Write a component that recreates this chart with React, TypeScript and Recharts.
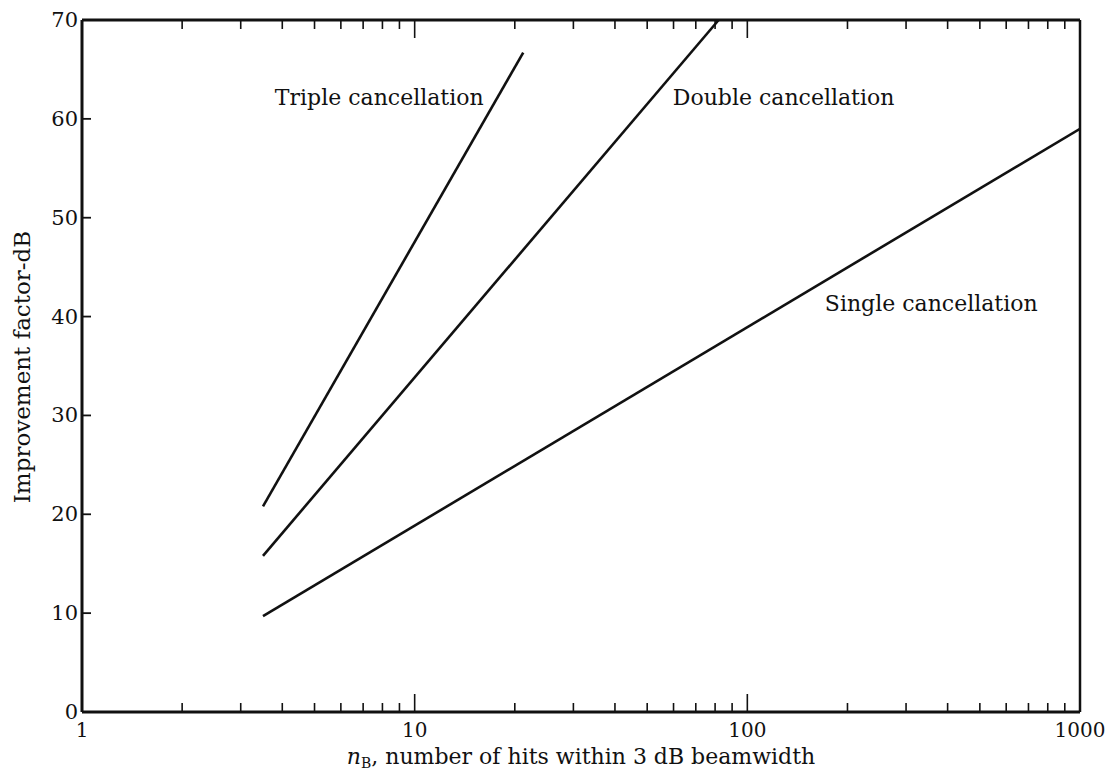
import { LineChart, Line, XAxis, YAxis, ReferenceDot } from "recharts"

// hits within the 3 dB beamwidth (x) and improvement factor in dB (y)
const singleN = [3.5, 1000]
const singleDb = [9.7, 59.0]
const doubleN = [3.5, 82]
const doubleDb = [15.8, 70]
const tripleN = [3.5, 21.2]
const tripleDb = [20.8, 66.7]

const xLabels = [1, 10, 100, 1000]
const xMinor = [2, 3, 4, 5, 6, 7, 8, 9, 20, 30, 40, 50, 60, 70, 80, 90, 200, 300, 400, 500, 600, 700, 800, 900]
const yTicks = [0, 10, 20, 30, 40, 50, 60, 70]

const notes = [
  { name: "Triple cancellation", n: 3.8, db: 62.2 },
  { name: "Double cancellation", n: 59.7, db: 62.2 },
  { name: "Single cancellation", n: 171, db: 41.4 },
]

const toPoints = (xs: number[], ys: number[]) => xs.map((x, i) => ({ x, y: ys[i] }))

const ink = "#111"
const font = "'DejaVu Serif', serif"
const allX = [...xLabels, ...xMinor].sort((a, b) => a - b)

const BottomTick = ({ x, y, payload }: any) => {
  const major = xLabels.includes(payload.value)
  return (
    <g>
      <line x1={x} x2={x} y1={y} y2={y - (major ? 18 : 9)} stroke={ink} strokeWidth={1.6} />
      {major && (
        <text x={x} y={y + 25} textAnchor="middle" fontSize={20} fontFamily={font} fill={ink}>
          {payload.value}
        </text>
      )}
    </g>
  )
}

const TopTick = ({ x, y, payload }: any) => {
  const major = xLabels.includes(payload.value)
  return <line x1={x} x2={x} y1={y} y2={y + (major ? 18 : 9)} stroke={ink} strokeWidth={1.6} />
}

const LeftTick = ({ x, y, payload }: any) => (
  <g>
    <line x1={x} x2={x + 9} y1={y} y2={y} stroke={ink} strokeWidth={1.8} />
    <text x={x - 4} y={y} dy={7} textAnchor="end" fontSize={21} fontFamily={font} fill={ink}>
      {payload.value}
    </text>
  </g>
)

const RightTick = ({ x, y }: any) => <line x1={x} x2={x - 9} y1={y} y2={y} stroke={ink} strokeWidth={1.8} />

export default function App() {
  return (
    <div style={{ position: "absolute", left: 0, top: 0, width: 1105, height: 771, background: "#fff" }}>
      <LineChart width={1105} height={771} margin={{ top: 19, right: 24, bottom: 0, left: 22 }}>
        <XAxis
          xAxisId="bottom"
          dataKey="x"
          type="number"
          scale="log"
          domain={[1, 1000]}
          ticks={allX}
          interval={0}
          allowDataOverflow
          height={59}
          tickSize={0}
          tickMargin={0}
          tickLine={false}
          tick={BottomTick}
          axisLine={{ stroke: ink, strokeWidth: 3 }}
        />
        <XAxis
          xAxisId="top"
          orientation="top"
          dataKey="x"
          type="number"
          scale="log"
          domain={[1, 1000]}
          ticks={allX}
          interval={0}
          allowDataOverflow
          height={1}
          tickSize={0}
          tickMargin={0}
          tickLine={false}
          tick={TopTick}
          axisLine={{ stroke: ink, strokeWidth: 3 }}
        />
        <YAxis
          yAxisId="left"
          type="number"
          domain={[0, 70]}
          ticks={yTicks}
          interval={0}
          width={60}
          tickSize={0}
          tickMargin={0}
          tickLine={false}
          tick={LeftTick}
          axisLine={{ stroke: ink, strokeWidth: 3 }}
        />
        <YAxis
          yAxisId="right"
          orientation="right"
          type="number"
          domain={[0, 70]}
          ticks={yTicks}
          interval={0}
          width={1}
          tickSize={0}
          tickMargin={0}
          tickLine={false}
          tick={RightTick}
          axisLine={{ stroke: ink, strokeWidth: 2.5 }}
        />
        <Line xAxisId="bottom" yAxisId="left" data={toPoints(singleN, singleDb)} dataKey="y" stroke={ink} strokeWidth={2.6} dot={false} isAnimationActive={false} />
        <Line xAxisId="bottom" yAxisId="left" data={toPoints(doubleN, doubleDb)} dataKey="y" stroke={ink} strokeWidth={2.6} dot={false} isAnimationActive={false} />
        <Line xAxisId="bottom" yAxisId="left" data={toPoints(tripleN, tripleDb)} dataKey="y" stroke={ink} strokeWidth={2.6} dot={false} isAnimationActive={false} />
        {notes.map((n) => (
          <ReferenceDot
            key={n.name}
            xAxisId="bottom"
            yAxisId="left"
            x={n.n}
            y={n.db}
            r={0}
            stroke="none"
            fill="none"
            label={{ value: n.name, position: "right", offset: 0, fontSize: 22, fontFamily: font, fill: ink }}
          />
        ))}
      </LineChart>
      <svg width={1105} height={771} style={{ position: "absolute", left: 0, top: 0, pointerEvents: "none" }}>
        <text x={581} y={764} textAnchor="middle" fontSize={22} fontFamily={font} fill={ink}>
          <tspan fontStyle="italic">n</tspan>
          <tspan fontSize={14} dy={4}>B</tspan>
          <tspan dy={-4}>, number of hits within 3 dB beamwidth</tspan>
        </text>
        <text
          x={30}
          y={367}
          textAnchor="middle"
          fontSize={23}
          fontFamily={font}
          fill={ink}
          transform="rotate(-90 30 367)"
        >
          Improvement factor-dB
        </text>
      </svg>
    </div>
  )
}
